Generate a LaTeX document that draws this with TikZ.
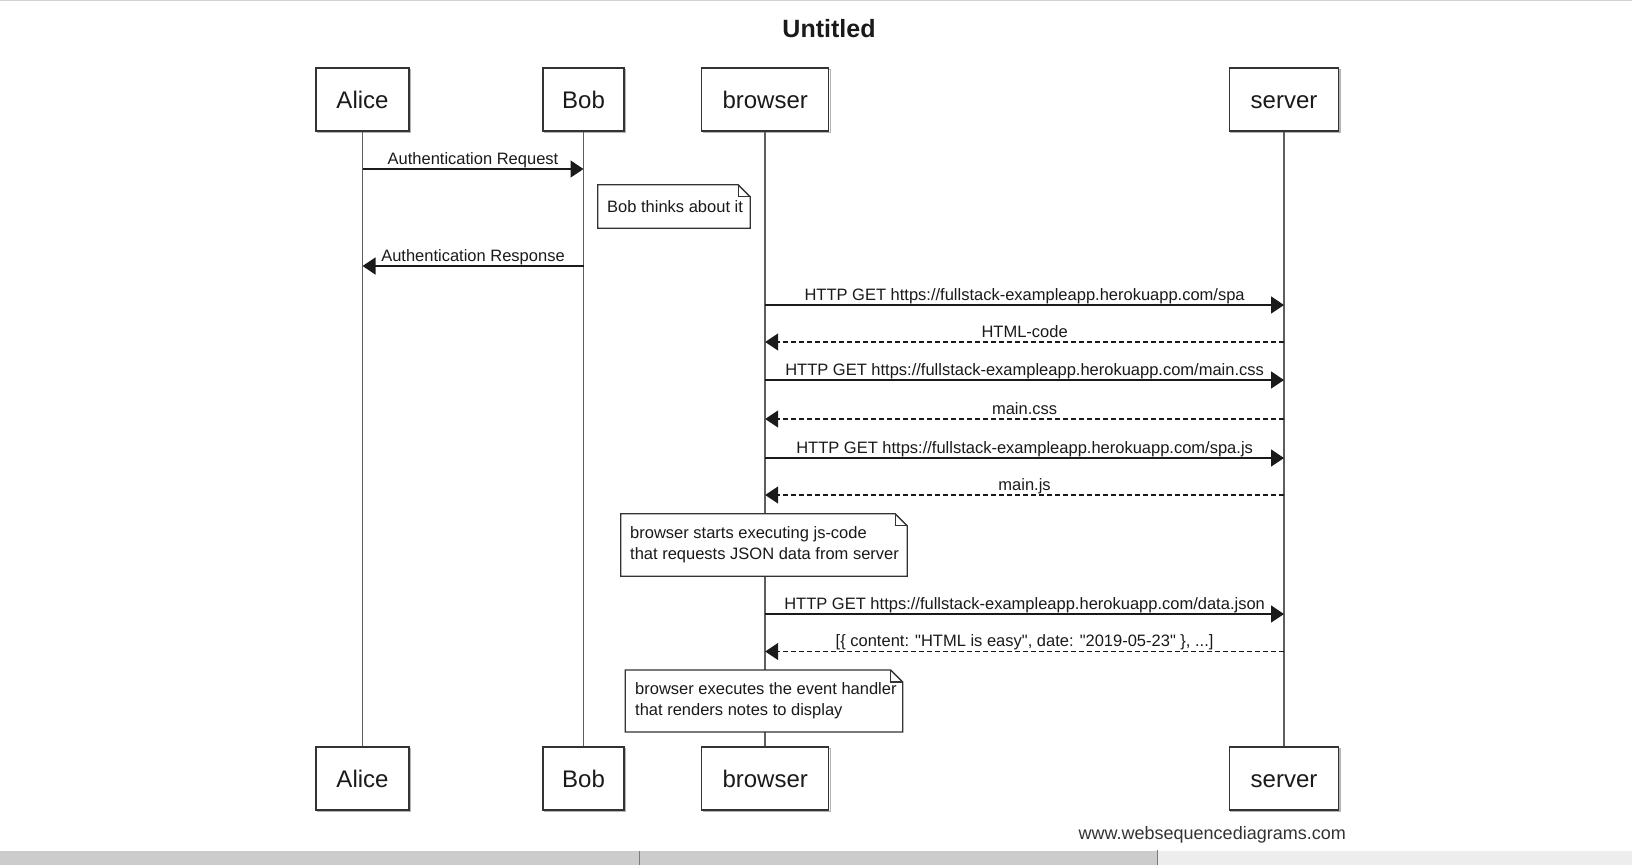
\documentclass[tikz,border=0pt]{standalone}
\usepackage{fontspec}
\setmainfont{Liberation Sans}
\usetikzlibrary{arrows.meta}

\definecolor{ink}{HTML}{1A1A1A}
\definecolor{frame}{HTML}{333333}
\definecolor{lifegray}{HTML}{5E5E5E}
\definecolor{shade}{HTML}{B4B4B4}
\definecolor{barfill}{HTML}{CCCCCC}
\definecolor{barlight}{HTML}{EDEDED}
\definecolor{barline}{HTML}{7A7A7A}
\definecolor{topline}{HTML}{D2D2D2}
\definecolor{footgray}{HTML}{333333}

% drop a folded-corner outline around a note node
\newcommand{\dogear}[1]{%
  \draw[noteline] (#1.north west) -- ([xshift=-12pt]#1.north east)
        -- ([yshift=-12pt]#1.north east) -- (#1.south east)
        -- (#1.south west) -- cycle;
  \draw[noteline] ([xshift=-12pt]#1.north east) |- ([yshift=-12pt]#1.north east);
}

\begin{document}
\begin{tikzpicture}[x=1pt,y=-1pt,
  actor/.style={draw=frame, line width=1.4pt, fill=white, inner sep=0pt,
    text=ink, text height=17pt, text depth=0pt,
    font=\fontsize{24}{28}\selectfont},
  actorshade/.style={draw=shade, line width=1.3pt},
  lifeline/.style={draw=lifegray, line width=1.8pt},
  msg/.style={draw=ink, line width=1.4pt,
    -{Triangle[length=13pt,width=17pt]}},
  reply/.style={msg, dash pattern=on 5pt off 3pt},
  msglabel/.style={anchor=base, yshift=5pt, inner sep=0pt, text=ink,
    font=\fontsize{16.5}{20}\selectfont},
  notebox/.style={fill=white, draw=none, inner sep=0pt},
  noteline/.style={draw=frame, line width=1.3pt, line join=miter},
  notetext/.style={anchor=west, inner sep=0pt, text=ink, align=left,
    font=\fontsize{16.5}{21}\selectfont},
]
\useasboundingbox (0,0) rectangle (1632,865);
\fill[white] (0,0) rectangle (1632,865);
\draw[topline, line width=1pt] (0,0.5) -- (1632,0.5);

% title
\node[font=\fontsize{25}{29}\selectfont\bfseries, text=ink] (title) at (829,29) {Untitled};

% participants, top and bottom
\foreach \nm/\lbl/\cx/\w in {alice/Alice/362.5/93, bob/Bob/583.5/81,
                              browser/browser/765.2/127, server/server/1284/109} {
  \draw[actorshade] (\cx-\w/2+1.5,69.5) rectangle (\cx+\w/2+1.5,132.5);
  \draw[actorshade] (\cx-\w/2+1.5,748.5) rectangle (\cx+\w/2+1.5,811.5);
  \node[actor, minimum width=\w pt, minimum height=63pt] (\nm T) at (\cx,99.5) {\lbl};
  \node[actor, minimum width=\w pt, minimum height=63pt] (\nm B) at (\cx,778.5) {\lbl};
}

% lifelines
\foreach \nm in {alice, bob, browser, server}
  \draw[lifeline] (\nm T.south) -- (\nm B.north);

% message rows
\foreach \i/\yy in {1/169, 2/266, 3/305, 4/342, 5/380, 6/419, 7/458, 8/495,
                    9/614, 10/651.5}
  \coordinate (r\i) at (0,\yy);

\draw[msg] (aliceT |- r1) -- (bobT |- r1)
  node[msglabel, midway] {Authentication Request};
\draw[msg] (bobT |- r2) -- (aliceT |- r2)
  node[msglabel, midway] {Authentication Response};
\draw[msg] (browserT |- r3) -- (serverT |- r3)
  node[msglabel, midway] {HTTP GET https://fullstack-exampleapp.herokuapp.com/spa};
\draw[reply] (serverT |- r4) -- (browserT |- r4)
  node[msglabel, midway] {HTML-code};
\draw[msg] (browserT |- r5) -- (serverT |- r5)
  node[msglabel, midway] {HTTP GET https://fullstack-exampleapp.herokuapp.com/main.css};
\draw[reply] (serverT |- r6) -- (browserT |- r6)
  node[msglabel, midway] {main.css};
\draw[msg] (browserT |- r7) -- (serverT |- r7)
  node[msglabel, midway] {HTTP GET https://fullstack-exampleapp.herokuapp.com/spa.js};
\draw[reply] (serverT |- r8) -- (browserT |- r8)
  node[msglabel, midway] {main.js};
\draw[msg] (browserT |- r9) -- (serverT |- r9)
  node[msglabel, midway] {HTTP GET https://fullstack-exampleapp.herokuapp.com/data.json};
\draw[reply] (serverT |- r10) -- (browserT |- r10)
  node[msglabel, midway] {[\{ content: \textquotedbl HTML is easy\textquotedbl, date: \textquotedbl 2019-05-23\textquotedbl\ \}, ...]};

% notes
\node[notebox, minimum width=152pt, minimum height=43pt] (note1) at (674,206.5) {};
\dogear{note1}
\node[notetext] (note1txt) at (607,206.5) {Bob thinks about it};

\node[notebox, minimum width=286pt, minimum height=62pt] (note2) at (764,545) {};
\dogear{note2}
\node[notetext] (note2txt) at (630,545)
  {browser starts executing js-code\\that requests JSON data from server};

\node[notebox, minimum width=277pt, minimum height=61.5pt] (note3) at (764,701) {};
\dogear{note3}
\node[notetext] (note3txt) at (635,701)
  {browser executes the event handler\\that renders notes to display};

% footer credit
\node[anchor=east, inner sep=0pt, text=footgray, font=\fontsize{18}{21}\selectfont]
  (credit) at (1346,835) {www.websequencediagrams.com};

% bottom status bar
\fill[barfill] (0,851) rectangle (1157,865);
\fill[barlight] (1157,851) rectangle (1632,865);
\draw[barline, line width=1pt] (639,851) -- (639,865);
\draw[barline, line width=1pt] (1157,850) -- (1157,865);
\end{tikzpicture}
\end{document}
